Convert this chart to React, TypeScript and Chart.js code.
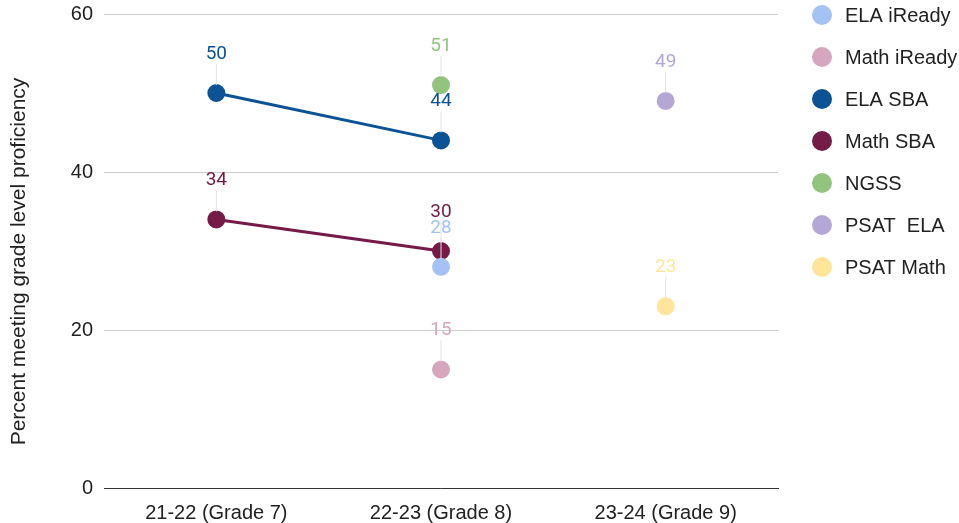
import React, { useEffect, useRef } from "react";
import { Chart, registerables } from "chart.js";

Chart.register(...registerables);

const categories = ["21-22 (Grade 7)", "22-23 (Grade 8)", "23-24 (Grade 9)"];
const seriesNames = ["ELA iReady", "Math iReady", "ELA SBA", "Math SBA", "NGSS", "PSAT  ELA", "PSAT Math"];
const seriesColors = ["#a4c2f4", "#d5a6bd", "#0b5394", "#741b47", "#93c47d", "#b4a7d6", "#ffe599"];
const elaIReady = [null, 28, null];
const mathIReady = [null, 15, null];
const elaSBA = [50, 44, null];
const mathSBA = [34, 30, null];
const ngss = [null, 51, null];
const psatELA = [null, null, 49];
const psatMath = [null, null, 23];
const seriesValues = [elaIReady, mathIReady, elaSBA, mathSBA, ngss, psatELA, psatMath];
const yTicks = [0, 20, 40, 60];
const yTitle = "Percent meeting grade level proficiency";

const FONT = "'Liberation Sans', Arial, sans-serif";

const labelPlugin = {
  id: "pointLabels",
  afterDatasetsDraw(chart: any) {
    const ctx = chart.ctx;
    ctx.save();
    chart.data.datasets.forEach((ds: any, i: number) => {
      const meta = chart.getDatasetMeta(i);
      meta.data.forEach((pt: any, j: number) => {
        const v = ds.data[j];
        if (v === null || v === undefined) return;
        const x = pt.x;
        const y = pt.y;
        ctx.strokeStyle = "#e3e3e3";
        ctx.lineWidth = 1;
        ctx.beginPath();
        ctx.moveTo(x, y - 8);
        ctx.lineTo(x, y - 29);
        ctx.stroke();
        ctx.font = "19px Roboto";
        ctx.fillStyle = ds.borderColor;
        ctx.textAlign = "center";
        ctx.textBaseline = "middle";
        ctx.fillText(String(v), x, y - 39);
      });
    });
    ctx.restore();
  },
};

const legendPlugin = {
  id: "sideLegend",
  afterDraw(chart: any) {
    const ctx = chart.ctx;
    ctx.save();
    seriesNames.forEach((name, i) => {
      const cy = 15 + i * 42;
      ctx.fillStyle = seriesColors[i];
      ctx.beginPath();
      ctx.arc(822, cy, 10, 0, Math.PI * 2);
      ctx.fill();
      ctx.fillStyle = "#222";
      ctx.font = "20px " + FONT;
      ctx.textAlign = "left";
      ctx.textBaseline = "middle";
      ctx.fillText(name, 845, cy + 1);
    });
    // y axis title, centred on the whole chart height
    ctx.translate(19, chart.height / 2);
    ctx.rotate(-Math.PI / 2);
    ctx.fillStyle = "#222";
    ctx.font = "21px " + FONT;
    ctx.textAlign = "center";
    ctx.textBaseline = "middle";
    ctx.fillText(yTitle, 0, 0);
    ctx.restore();
  },
};

export default function App() {
  const ref = useRef<HTMLCanvasElement>(null);
  useEffect(() => {
    document.body.style.margin = "0";
    const chart = new Chart(ref.current!, {
      type: "line",
      data: {
        labels: categories,
        datasets: seriesNames.map((name, i) => ({
          label: name,
          data: seriesValues[i],
          borderColor: seriesColors[i],
          backgroundColor: seriesColors[i],
          pointBackgroundColor: seriesColors[i],
          pointBorderColor: seriesColors[i],
          pointRadius: 7.5,
          borderWidth: 3,
          spanGaps: false,
        })),
      },
      options: {
        animation: false,
        responsive: false,
        maintainAspectRatio: false,
        layout: { padding: { top: 14, right: 181, bottom: 0, left: 0 } },
        plugins: { legend: { display: false }, tooltip: { enabled: false } },
        scales: {
          x: {
            offset: true,
            grid: { display: false },
            border: { display: true, color: "#333", width: 1 },
            ticks: { color: "#222", font: { size: 20, family: FONT }, padding: 5 },
            afterFit: (s: any) => { s.height = 35; },
          },
          y: {
            min: 0,
            max: 60,
            afterBuildTicks: (s: any) => { s.ticks = yTicks.map((v) => ({ value: v })); },
            grid: { color: "#cccccc", drawTicks: false },
            border: { display: false },
            ticks: { color: "#222", font: { size: 20, family: FONT }, padding: 11 },
            afterFit: (s: any) => { s.width = 104; s.paddingTop = 0; s.paddingBottom = 0; },
          },
        },
      },
      plugins: [labelPlugin, legendPlugin],
    } as any);
    return () => chart.destroy();
  }, []);
  return (
    <div style={{ width: 959, height: 523 }}>
      <canvas ref={ref} width={959} height={523} style={{ width: 959, height: 523 }} />
    </div>
  );
}
